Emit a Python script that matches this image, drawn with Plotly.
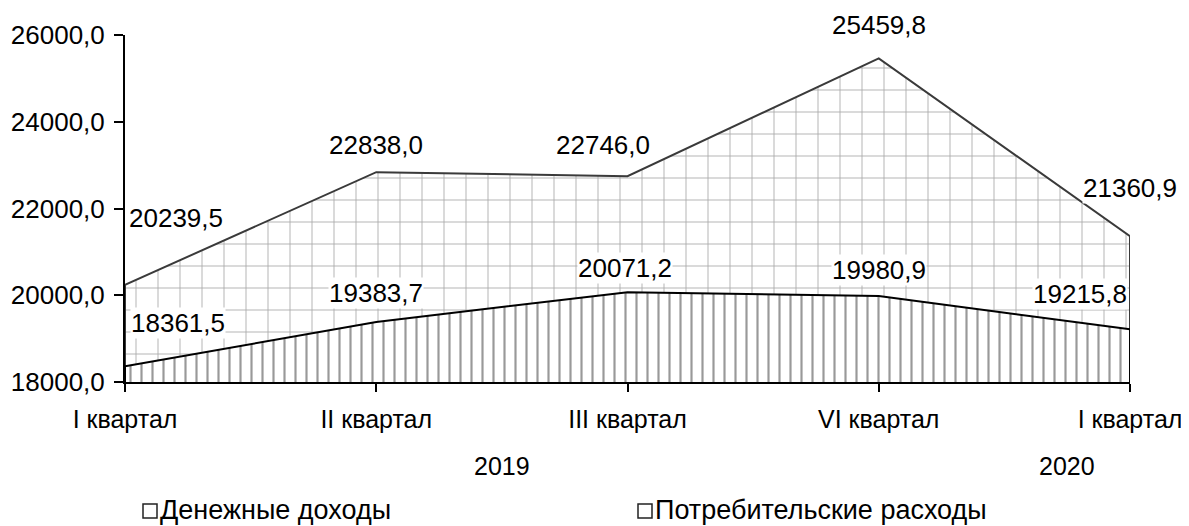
import plotly.graph_objects as go

quarters = ["I квартал", "II квартал", "III квартал", "VI квартал", "I квартал"]
years = ["2019", "2020"]
series_names = ["Денежные доходы", "Потребительские расходы"]
income = [20239.5, 22838.0, 22746.0, 25459.8, 21360.9]
expenses = [18361.5, 19383.7, 20071.2, 19980.9, 19215.8]
y_min, y_max = 18000, 26000

FONT = "Liberation Sans, Arial, sans-serif"
FS = 25
xs = list(range(len(quarters)))


def fmt(v):
    return f"{v:.1f}".replace(".", ",")


fig = go.Figure()

# area for income (dotted grid in the original)
fig.add_trace(go.Scatter(
    x=xs, y=income, mode="lines", fill="tozeroy",
    fillcolor="white",
    fillpattern=dict(shape="+", fgcolor="#5a5a5a", bgcolor="white", size=22, solidity=0.08),
    line=dict(color="rgba(0,0,0,0)", width=0), showlegend=False, hoverinfo="skip",
))
# area for expenses (vertical dashes)
fig.add_trace(go.Scatter(
    x=xs, y=expenses, mode="lines", fill="tozeroy",
    fillcolor="white",
    fillpattern=dict(shape="|", fgcolor="#333333", bgcolor="white", size=11, solidity=0.2),
    line=dict(color="rgba(0,0,0,0)", width=0), showlegend=False, hoverinfo="skip",
))
# outlines with vertical edges down to the baseline
edge_x = [xs[0]] + xs + [xs[-1]]
fig.add_trace(go.Scatter(
    x=edge_x, y=[y_min] + income + [y_min], mode="lines",
    line=dict(color="#3a3a3a", width=2), showlegend=False, hoverinfo="skip",
))
fig.add_trace(go.Scatter(
    x=edge_x, y=[y_min] + expenses + [y_min], mode="lines",
    line=dict(color="black", width=2), showlegend=False, hoverinfo="skip",
))

# data labels: (x shift, y shift, anchor)
inc_pos = [(3, 67, "left"), (0, 27, "center"), (-25, 31, "center"), (0, 33, "center"), (0, 48, "center")]
exp_pos = [(5, 43, "left"), (0, 29, "center"), (-3, 24, "center"), (0, 26, "center"), (-2, 35, "right")]
for vals, pos in ((income, inc_pos), (expenses, exp_pos)):
    for i, v in enumerate(vals):
        dx, dy, anchor = pos[i]
        fig.add_annotation(
            x=xs[i], y=v, text=fmt(v), showarrow=False,
            xanchor=anchor, yanchor="middle", xshift=dx, yshift=dy,
            bgcolor="white", borderpad=0,
            font=dict(family=FONT, size=26, color="black"),
        )

# year labels under the quarters
fig.add_annotation(x=1.5, y=-0.242, xref="x", yref="paper", text=years[0], showarrow=False,
                   yanchor="middle", font=dict(family=FONT, size=FS, color="black"))
fig.add_annotation(x=3.75, y=-0.242, xref="x", yref="paper", text=years[1], showarrow=False,
                   yanchor="middle", font=dict(family=FONT, size=FS, color="black"))

# legend drawn by hand so it does not push the plot margins
# (positions in page pixels: plot area spans x 125..1130, y 35..382)
legend_x = [143, 638]
for name, lx in zip(series_names, legend_x):
    fig.add_shape(type="rect", xref="paper", yref="paper",
                  x0=(lx - 125) / 1005, x1=(lx + 14 - 125) / 1005,
                  y0=(382 - 504) / 347, y1=(382 - 518) / 347,
                  line=dict(color="#222", width=1.5), fillcolor="white")
    fig.add_annotation(x=(lx + 15 - 125) / 1005, y=(382 - 510) / 347, xref="paper", yref="paper",
                       text=name, showarrow=False, xanchor="left", yanchor="middle",
                       font=dict(family=FONT, size=27, color="black"))

# the page body adds an 8px margin, so the figure is 8px smaller and margins shifted
fig.update_layout(
    width=1181, height=518,
    margin=dict(l=117, r=59, t=27, b=144),
    paper_bgcolor="white", plot_bgcolor="white",
    font=dict(family=FONT, size=FS, color="black"),
    separators=", ",
    showlegend=False,
    xaxis=dict(
        range=[0, 4], tickvals=xs, ticktext=quarters, automargin=False,
        showgrid=False, zeroline=False, showline=True, linecolor="black", linewidth=2,
        ticks="outside", ticklen=8, tickwidth=1.5, tickcolor="black",
        ticklabelstandoff=6,
    ),
    yaxis=dict(
        range=[y_min, y_max], tickvals=[18000, 20000, 22000, 24000, 26000],
        tickformat=".1f", showgrid=False, zeroline=False, automargin=False,
        showline=True, linecolor="black", linewidth=2,
        ticks="outside", ticklen=9, tickwidth=1.5, tickcolor="black",
        ticklabelstandoff=4,
        tickfont=dict(family=FONT, size=26, color="black"),
    ),
)

fig.write_html("out.html")
